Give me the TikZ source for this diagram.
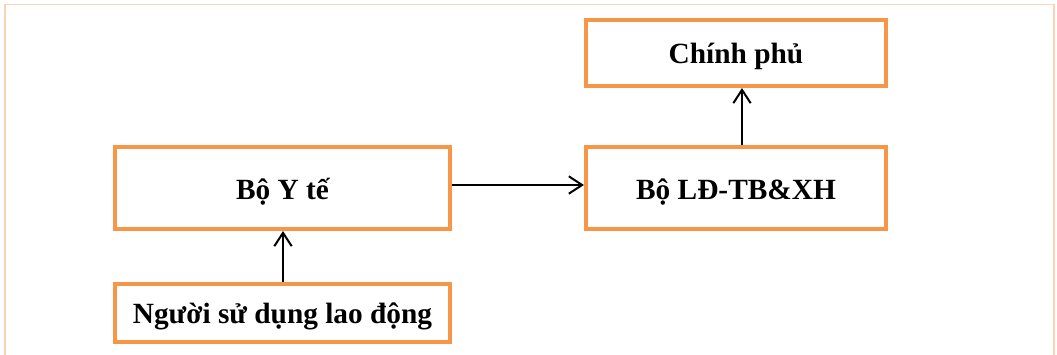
\documentclass[tikz,border=0pt]{standalone}
\usepackage{fontspec}
\setmainfont{Liberation Serif}
\usetikzlibrary{arrows.meta}
\definecolor{boxorange}{HTML}{F79646}
\definecolor{frameorange}{HTML}{FBD4B4}
\tikzset{
  orgbox/.style={draw=boxorange, line width=3pt, fill=white, inner sep=0pt,
    font=\fontsize{22}{26}\selectfont\bfseries, align=center,
    text height=14.6pt, text depth=0pt},
  arr/.style={draw=black, line width=1.5pt, -{Straight Barb[length=10pt,width=13pt,line width=1.5pt]}}
}
\begin{document}
\begin{tikzpicture}[x=0.75pt,y=-0.75pt]
\useasboundingbox (0,0) rectangle (1057,354);
\begin{scope}
\clip (0,0) rectangle (1057,354);
\draw[frameorange, line width=1.2pt] (5,4.5) rectangle (1054,380);
\end{scope}
\node[orgbox, minimum width=335*0.75pt, minimum height=82*0.75pt] (byt) at (282.5,188) {\raisebox{-1pt}{Bộ Y tế}};
\node[orgbox, minimum width=335*0.75pt, minimum height=58*0.75pt] (nsd) at (282.5,313) {\raisebox{-0.7pt}{Người sử dụng lao động}};
\node[orgbox, minimum width=300*0.75pt, minimum height=66*0.75pt] (cp) at (736,53) {\raisebox{-0.4pt}{Chính phủ}};
\node[orgbox, minimum width=300*0.75pt, minimum height=82*0.75pt] (bld) at (736,188) {\raisebox{-1pt}{Bộ LĐ-TB\&XH}};
\coordinate (yh) at (0,185);
\coordinate (xa) at (283,0);
\coordinate (xb) at (742,0);
\draw[arr] (nsd.north -| xa) -- (byt.south -| xa);
\draw[arr] (byt.east |- yh) -- (bld.west |- yh);
\draw[arr] (bld.north -| xb) -- (cp.south -| xb);
\end{tikzpicture}
\end{document}
